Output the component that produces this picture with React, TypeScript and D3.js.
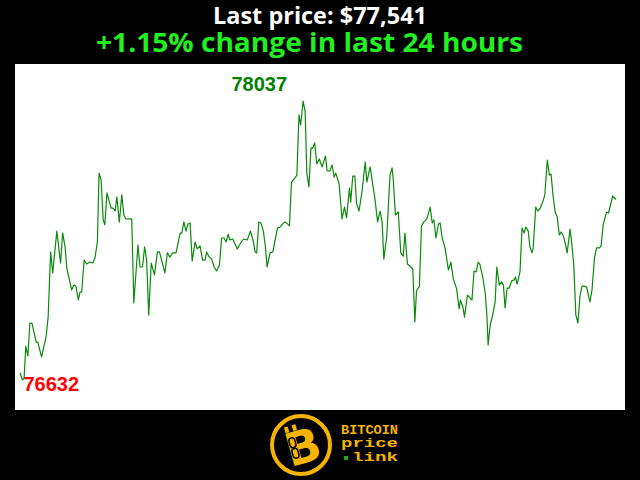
import React from 'react';
import { scaleLinear, line as d3Line, curveLinear, min, max } from 'd3';

// minutes since the start of the 24h window
const minutes = [
  0, 6, 10, 14, 19, 24, 29, 39, 43, 52, 63, 68, 74, 79, 89, 98, 103, 109, 113, 125,
  130, 135, 141, 145, 149, 155, 161, 169, 176, 181, 187, 191, 196, 201, 205, 210, 220, 225, 230, 234,
  240, 246, 251, 256, 270, 275, 285, 290, 296, 301, 306, 311, 317, 325, 332, 337, 350, 356, 362, 369,
  377, 387, 391, 396, 401, 406, 411, 416, 423, 428, 435, 441, 447, 451, 457, 463, 469, 475, 482, 487,
  493, 498, 503, 507, 514, 525, 533, 540, 549, 557, 564, 568, 572, 577, 582, 588, 593, 597, 604, 611,
  615, 622, 628, 635, 640, 644, 651, 656, 662, 669, 674, 678, 684, 689, 693, 698, 703, 707, 712, 717,
  723, 730, 738, 742, 749, 754, 759, 763, 771, 778, 784, 789, 796, 799, 804, 809, 813, 819, 826, 834,
  838, 846, 850, 858, 864, 870, 875, 879, 886, 894, 899, 902, 907, 914, 920, 926, 930, 936, 942, 949,
  954, 958, 965, 970, 976, 983, 991, 996, 1000, 1005, 1011, 1015, 1020, 1027, 1035, 1041, 1047, 1055, 1061, 1064,
  1070, 1074, 1081, 1087, 1092, 1097, 1102, 1107, 1111, 1118, 1124, 1128, 1131, 1136, 1142, 1148, 1152, 1158, 1163, 1168,
  1172, 1177, 1182, 1188, 1194, 1197, 1201, 1208, 1213, 1218, 1222, 1228, 1232, 1237, 1240, 1246, 1251, 1256, 1263, 1268,
  1274, 1279, 1283, 1288, 1293, 1298, 1303, 1307, 1313, 1317, 1322, 1329, 1334, 1338, 1343, 1348, 1353, 1358, 1363, 1369,
  1377, 1382, 1388, 1393, 1400, 1404, 1409, 1417, 1422, 1432, 1440,
];

// BTC price in USD at each timestamp
const prices = [
  76667, 76632, 76642, 76803, 76753, 76919, 76917, 76823, 76823, 76748, 76849, 76949, 77277, 77171, 77382, 77221, 77372, 77302, 77196, 77085,
  77110, 77105, 77035, 77075, 77075, 77236, 77216, 77226, 77221, 77246, 77327, 77674, 77639, 77438, 77413, 77574, 77498, 77498, 77483, 77554,
  77428, 77564, 77463, 77443, 77443, 77020, 77312, 77201, 77201, 77302, 77236, 76959, 77221, 77161, 77277, 77277, 77171, 77272, 77251, 77272,
  77272, 77372, 77372, 77428, 77382, 77418, 77423, 77231, 77327, 77292, 77307, 77236, 77236, 77277, 77251, 77241, 77201, 77181, 77211, 77347,
  77347, 77327, 77367, 77337, 77342, 77292, 77322, 77342, 77337, 77382, 77327, 77277, 77272, 77428, 77423, 77382, 77302, 77201, 77272, 77277,
  77322, 77397, 77402, 77418, 77428, 77423, 77408, 77629, 77644, 77664, 77967, 77916, 78037, 77982, 77674, 77604, 77800, 77800, 77826, 77720,
  77745, 77705, 77760, 77685, 77685, 77715, 77654, 77674, 77619, 77443, 77503, 77448, 77599, 77528, 77659, 77659, 77523, 77483, 77574, 77730,
  77629, 77705, 77649, 77538, 77428, 77483, 77428, 77241, 77352, 77664, 77700, 77639, 77463, 77478, 77272, 77256, 77372, 77216, 77206, 77191,
  76924, 77080, 77105, 77408, 77428, 77443, 77503, 77423, 77438, 77347, 77418, 77423, 77347, 77297, 77186, 77226, 77141, 77090, 76990, 77035,
  77000, 76949, 77060, 77045, 77035, 77181, 77176, 77226, 77216, 77151, 77070, 76959, 76808, 76909, 76959, 77025, 77201, 77110, 77126, 77110,
  76995, 77095, 77095, 77131, 77136, 77151, 77115, 77176, 77397, 77372, 77402, 77382, 77302, 77272, 77297, 77503, 77483, 77493, 77528, 77564,
  77740, 77664, 77669, 77559, 77478, 77453, 77362, 77377, 77357, 77322, 77272, 77392, 77302, 77211, 76959, 76919, 77055, 77105, 77105, 77100,
  77025, 77085, 77246, 77297, 77297, 77307, 77413, 77478, 77473, 77559, 77541,
];

const titleText = 'Last price: $77,541';
const changeText = '+1.15% change in last 24 hours';
const logoLines = ['BITCOIN', 'price', 'link'];

const W = 640;
const H = 480;
const plot = { x: 15, y: 64, w: 610, h: 346 };
const pad = { left: 5, right: 9, top: 37, bottom: 30 };
const YELLOW = '#f4b400';
const HEAD_FONT = "'Open Sans', 'Noto Sans', sans-serif";
const MONO = "'Liberation Mono', 'DejaVu Sans Mono', monospace";

type Pt = { t: number; p: number };
const data: Pt[] = minutes.map((t, i) => ({ t, p: prices[i] }));

export default function App() {
  const x = scaleLinear()
    .domain([0, 1440])
    .range([plot.x + pad.left, plot.x + plot.w - pad.right]);
  const lo = min(prices) as number;
  const hi = max(prices) as number;
  const y = scaleLinear()
    .domain([lo, hi])
    .range([plot.y + plot.h - pad.bottom, plot.y + pad.top]);

  const path =
    d3Line<Pt>()
      .x(d => x(d.t))
      .y(d => y(d.p))
      .curve(curveLinear)(data) || '';

  const loPt = data[prices.indexOf(lo)];
  const hiPt = data[prices.indexOf(hi)];

  return (
    <>
      <style>{`body{margin:0;background:#000}`}</style>
      <svg width={W} height={H} style={{ display: 'block', background: '#000' }}>
        <text
          x={320}
          y={24}
          textAnchor="middle"
          fill="#fff"
          fontFamily={HEAD_FONT}
          fontWeight={700}
          fontSize={23}
          textLength={214}
          lengthAdjust="spacingAndGlyphs"
        >
          {titleText}
        </text>
        <text
          x={309.5}
          y={52}
          textAnchor="middle"
          fill="#22ee22"
          fontFamily={HEAD_FONT}
          fontWeight={700}
          fontSize={27}
          textLength={427}
          lengthAdjust="spacingAndGlyphs"
        >
          {changeText}
        </text>

        <rect x={plot.x} y={plot.y} width={plot.w} height={plot.h} fill="#fff" />

        <path
          d={path}
          fill="none"
          stroke="#0a8a0a"
          strokeWidth={1.2}
          strokeLinejoin="round"
        />

        <text
          x={x(loPt.t) + 1}
          y={y(lo) + 11}
          fill="#ff0000"
          fontFamily="'Liberation Sans', Arial, sans-serif"
          fontWeight={700}
          fontSize={20}
        >
          {lo}
        </text>
        <text
          x={x(hiPt.t) - 16}
          y={y(hi) - 10}
          textAnchor="end"
          fill="#008000"
          fontFamily="'Liberation Sans', Arial, sans-serif"
          fontWeight={700}
          fontSize={20}
        >
          {hi}
        </text>

        {/* logo */}
        <g>
          <circle cx={301} cy={445} r={29} fill="#000" stroke={YELLOW} strokeWidth={4} />
          <g transform="translate(303,447) rotate(-16)">
            <rect x={-13} y={-24} width={4} height={6} fill={YELLOW} />
            <rect x={-5} y={-24} width={4} height={6} fill={YELLOW} />
            <text
              x={0}
              y={16}
              textAnchor="middle"
              fill={YELLOW}
              fontFamily="'DejaVu Sans', sans-serif"
              fontWeight={900}
              fontSize={46}
            >
              B
            </text>
            <rect x={-12} y={-12} width={6} height={10} rx={3} fill="none" stroke="#000" strokeWidth={1.5} />
            <rect x={-12} y={-1} width={6} height={10} rx={3} fill="none" stroke="#000" strokeWidth={1.5} />
          </g>
          <text
            x={341}
            y={434}
            fill={YELLOW}
            fontFamily={MONO}
            fontWeight={700}
            fontSize={12}
            textLength={57}
            lengthAdjust="spacingAndGlyphs"
          >
            {logoLines[0]}
          </text>
          <text
            x={341}
            y={447}
            fill={YELLOW}
            fontFamily={MONO}
            fontWeight={700}
            fontSize={12}
            textLength={57}
            lengthAdjust="spacingAndGlyphs"
          >
            {logoLines[1]}
          </text>
          <rect x={344} y={456} width={4} height={4} fill="#22aa22" />
          <text
            x={352}
            y={461}
            fill={YELLOW}
            fontFamily={MONO}
            fontWeight={700}
            fontSize={12}
            textLength={46}
            lengthAdjust="spacingAndGlyphs"
          >
            {logoLines[2]}
          </text>
        </g>
      </svg>
    </>
  );
}
